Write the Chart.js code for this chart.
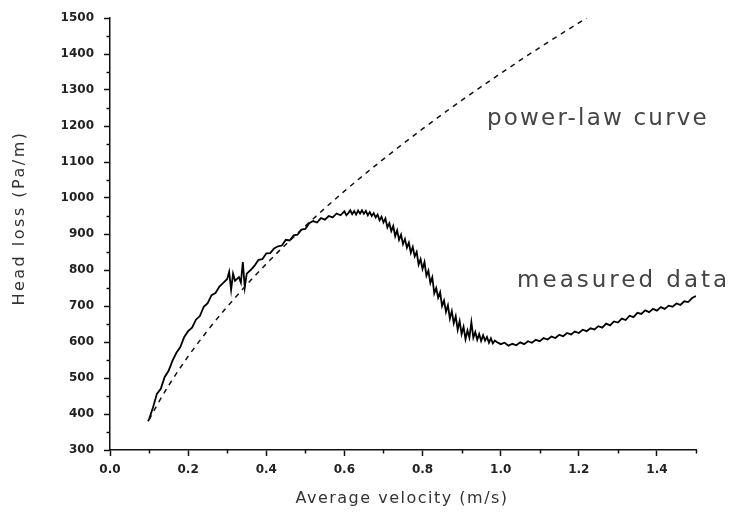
<!DOCTYPE html>
<html><head><meta charset="utf-8">
<script src="https://cdn.jsdelivr.net/npm/chart.js@4.4.1/dist/chart.umd.min.js"></script>
<style>html,body{margin:0;padding:0;background:#fff;}</style>
</head><body>
<canvas id="c" width="734" height="516" style="display:block;width:734px;height:516px"></canvas>
<script>
// Tick labels
const xTicks = [0, 0.2, 0.4, 0.6, 0.8, 1.0, 1.2, 1.4];
const xMinorTicks = [0.1, 0.3, 0.5, 0.7, 0.9, 1.1, 1.3, 1.5];
const yTicks = [300, 400, 500, 600, 700, 800, 900, 1000, 1100, 1200, 1300, 1400, 1500];
const yMinorTicks = [350, 450, 550, 650, 750, 850, 950, 1050, 1150, 1250, 1350, 1450];

// Power-law curve
const powerV = [0.1, 0.12, 0.15, 0.2, 0.25, 0.3, 0.4, 0.5, 0.6, 0.7, 0.8, 0.9, 1.0, 1.1, 1.22];
const powerH = [384, 424, 479, 560, 632, 698, 817, 922, 1019, 1108, 1192, 1271, 1346, 1418, 1500];

const measuredV = [0.097,0.10,0.11,0.12,0.13,0.14,0.15,0.16,0.17,0.18,0.19,0.20,0.21,0.22,0.23,0.24,0.25,0.26,0.27,0.28,0.29,
 0.300,0.305,0.310,0.315,0.32,0.33,0.335,0.34,0.345,0.35,0.36,0.37,0.38,0.39,0.40,0.41,0.42,0.43,0.44,0.45,0.46,0.47,0.48,0.49,
 0.50,0.51,0.52,0.53,0.54,0.55,0.56,0.57,0.58,0.59,
 0.600,0.605,0.610,0.615,0.620,0.625,0.630,0.635,0.640,0.645,0.650,0.655,0.660,0.665,0.670,0.675,0.680,0.685,0.690,0.695,
 0.700,0.705,0.710,0.715,0.720,0.725,0.730,0.735,0.740,0.745,0.750,0.755,0.760,0.765,0.770,0.775,0.780,0.785,0.790,0.795,
 0.800,0.805,0.810,0.815,0.820,0.825,0.830,0.835,0.840,0.845,0.850,0.855,0.860,0.865,0.870,0.875,0.880,0.885,0.890,0.895,
 0.900,0.905,0.910,0.915,0.920,0.925,0.930,0.935,0.940,0.945,0.950,0.955,0.960,0.965,0.970,0.975,0.980,0.985,
 0.99,1.00,1.01,1.02,1.03,1.04,1.05,1.06,1.07,1.08,1.09,
 1.10,1.11,1.12,1.13,1.14,1.15,1.16,1.17,1.18,1.19,1.20,1.21,1.22,1.23,1.24,1.25,1.26,1.27,1.28,1.29,
 1.30,1.31,1.32,1.33,1.34,1.35,1.36,1.37,1.38,1.39,1.40,1.41,1.42,1.43,1.44,1.45,1.46,1.47,1.48,1.49,1.50];
const measuredH = [380,385,418,456,470,503,520,548,570,586,614,630,640,662,672,698,708,730,736,754,764,
 775,795,745,790,770,780,765,822,752,790,800,812,828,830,846,847,860,866,868,884,882,896,898,912,
 914,930,936,932,944,940,950,946,957,952,
 963,952,958,966,955,964,954,965,957,966,956,964,952,961,950,958,946,954,938,948,
 932,943,918,930,908,922,894,910,884,898,872,886,862,876,848,864,838,850,815,830,
 803,822,784,798,764,780,735,750,723,738,700,715,684,702,665,686,652,672,634,658,
 622,642,608,632,612,655,612,628,606,622,603,619,604,614,598,610,596,604,
 600,594,598,590,595,591,599,594,602,598,606,
 602,611,607,615,611,620,616,625,621,629,625,634,630,638,635,644,640,651,646,657,
 654,665,661,673,669,681,678,688,683,692,687,697,692,701,698,707,703,713,711,722,728];

const powerData = powerV.map((v, i) => ({x: v, y: powerH[i]}));
const measuredData = measuredV.map((v, i) => ({x: v, y: measuredH[i]}));

const tickFont = {family: '"DejaVu Sans"', size: 12, weight: 'bold'};
const inkColor = '#111';

const extras = {
  id: 'extras',
  afterDraw(chart) {
    const ctx = chart.ctx;
    const xs = chart.scales.x, ys = chart.scales.y;
    ctx.save();
    // minor ticks
    ctx.strokeStyle = inkColor;
    ctx.lineWidth = 1.5;
    ctx.beginPath();
    const axisY = ys.getPixelForValue(300);
    xMinorTicks.forEach(v => {
      const px = Math.round(xs.getPixelForValue(v)) + 0.5;
      ctx.moveTo(px, axisY); ctx.lineTo(px, axisY + 3.5);
    });
    const axisX = xs.getPixelForValue(0);
    yMinorTicks.forEach(v => {
      const py = Math.round(ys.getPixelForValue(v)) + 0.5;
      ctx.moveTo(axisX, py); ctx.lineTo(axisX - 3.5, py);
    });
    ctx.stroke();

    // axis titles
    ctx.fillStyle = '#333';
    ctx.font = '16px "DejaVu Sans"';
    ctx.letterSpacing = '1.5px';
    ctx.textAlign = 'center';
    ctx.textBaseline = 'middle';
    ctx.fillText('Average velocity (m/s)', 402, 499);
    ctx.save();
    ctx.translate(20, 218);
    ctx.rotate(-Math.PI / 2);
    ctx.letterSpacing = '2.5px';
    ctx.fillText('Head loss (Pa/m)', 0, 0);
    ctx.restore();

    // annotations
    ctx.font = '23px "DejaVu Sans"';
    ctx.textAlign = 'left';
    ctx.textBaseline = 'alphabetic';
    ctx.fillStyle = '#444';
    ctx.letterSpacing = '2.2px';
    ctx.fillText('power-law curve', xs.getPixelForValue(0.965), ys.getPixelForValue(1203));
    ctx.letterSpacing = '3px';
    ctx.fillText('measured data', xs.getPixelForValue(1.042), ys.getPixelForValue(753));
    ctx.restore();
  }
};

const bgPlugin = {
  id: 'bg',
  beforeDraw(chart) {
    const ctx = chart.ctx;
    ctx.save();
    ctx.fillStyle = '#fff';
    ctx.fillRect(0, 0, chart.width, chart.height);
    ctx.restore();
  }
};

new Chart(document.getElementById('c'), {
  type: 'line',
  data: {
    datasets: [
      {
        label: 'power-law curve',
        data: powerData,
        borderColor: '#111',
        borderWidth: 1.5,
        borderDash: [5, 5],
        pointRadius: 0,
        cubicInterpolationMode: 'monotone',
        fill: false
      },
      {
        label: 'measured data',
        data: measuredData,
        borderColor: '#000',
        borderWidth: 1.8,
        pointRadius: 0,
        tension: 0,
        fill: false
      }
    ]
  },
  options: {
    responsive: false,
    animation: false,
    devicePixelRatio: 1,
    layout: {padding: {left: 0, right: 38, top: 18, bottom: 0}},
    plugins: {legend: {display: false}, tooltip: {enabled: false}, title: {display: false}},
    scales: {
      x: {
        type: 'linear',
        min: 0, max: 1.5,
        afterBuildTicks: s => { s.ticks = xTicks.map(v => ({value: v})); },
        afterFit: s => { s.height = 66; },
        ticks: {
          callback: v => Number(v).toFixed(1),
          font: tickFont, color: '#222', padding: 7,
          maxRotation: 0, autoSkip: false
        },
        grid: {display: true, drawOnChartArea: false, drawTicks: true, tickLength: 6, tickWidth: 1.5, tickColor: inkColor},
        border: {display: true, color: inkColor, width: 1.5}
      },
      y: {
        type: 'linear',
        min: 300, max: 1500,
        afterBuildTicks: s => { s.ticks = yTicks.map(v => ({value: v})); },
        afterFit: s => { s.width = 110; },
        ticks: {
          callback: v => String(v),
          font: tickFont, color: '#222', padding: 10, autoSkip: false
        },
        grid: {display: true, drawOnChartArea: false, drawTicks: true, tickLength: 6, tickWidth: 1.5, tickColor: inkColor},
        border: {display: true, color: inkColor, width: 1.5}
      }
    }
  },
  plugins: [bgPlugin, extras]
});
</script>
</body></html>
